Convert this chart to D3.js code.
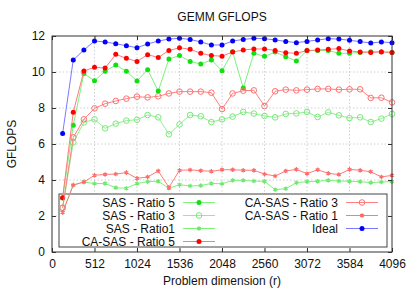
<!DOCTYPE html>
<html>
<head>
<meta charset="utf-8">
<script src="https://cdn.jsdelivr.net/npm/d3@7"></script>
<style>
  body { margin: 0; background: #fff; }
  svg { display: block; font-family: "Liberation Sans", Arial, sans-serif; }
</style>
</head>
<body>
<div id="chart"></div>
<script>
const dims = [128, 256, 384, 512, 640, 768, 896, 1024, 1152, 1280, 1408, 1536, 1664, 1792, 1920, 2048,
              2176, 2304, 2432, 2560, 2688, 2816, 2944, 3072, 3200, 3328, 3456, 3584, 3712, 3840, 3968, 4096];

const sasR5 = [3.0, 7.04, 9.91, 9.52, 10.04, 10.39, 10.04, 9.50, 10.13, 8.94, 10.72, 10.91, 10.59, 10.44, 10.67, 10.07,
               11.12, 9.11, 11.04, 10.87, 11.11, 10.85, 10.61, 11.19, 11.20, 11.20, 11.04, 11.04, 11.09, 11.13, 11.13, 11.09];
const sasR3 = [2.46, 6.09, 7.20, 7.37, 6.87, 7.13, 7.30, 7.35, 7.61, 7.48, 6.54, 7.09, 7.61, 7.54, 7.22, 7.37,
               7.52, 7.78, 7.69, 7.56, 7.48, 7.67, 7.70, 7.78, 7.50, 7.76, 7.59, 7.44, 7.48, 7.22, 7.41, 7.67];
const sasR1 = [2.2, 3.72, 3.89, 3.80, 3.81, 3.57, 3.54, 3.80, 3.91, 3.93, 3.54, 3.74, 3.67, 3.69, 3.81, 3.79,
               3.98, 3.98, 3.94, 3.93, 3.46, 3.52, 3.85, 3.91, 3.93, 3.98, 3.94, 3.93, 3.91, 3.85, 3.89, 3.91];
const caR5 = [3.02, 7.76, 10.06, 10.26, 10.22, 10.98, 10.76, 10.59, 10.96, 10.81, 11.19, 11.35, 11.26, 11.04, 10.91, 10.88,
              11.11, 11.22, 11.28, 11.28, 11.20, 11.07, 11.04, 11.19, 11.22, 11.26, 11.30, 11.17, 11.11, 11.09, 11.11, 11.09];
const caR3 = [2.45, 6.37, 7.37, 7.98, 8.24, 8.39, 8.52, 8.63, 8.59, 8.65, 8.81, 8.91, 8.91, 8.91, 8.85, 7.94,
              8.81, 8.96, 8.98, 8.11, 8.93, 9.02, 8.98, 9.02, 9.06, 9.06, 9.02, 9.04, 9.04, 8.56, 8.57, 8.31];
const caR1 = [2.2, 3.72, 3.89, 4.26, 4.31, 4.33, 4.41, 4.09, 4.17, 4.50, 3.59, 4.54, 4.56, 4.52, 4.48, 4.57,
              4.57, 4.54, 4.54, 4.33, 4.22, 4.50, 4.59, 4.35, 4.57, 4.37, 4.30, 4.59, 4.54, 4.46, 4.17, 4.26];
const ideal = [6.59, 10.67, 11.22, 11.72, 11.67, 11.57, 11.46, 11.35, 11.56, 11.72, 11.83, 11.87, 11.81, 11.67, 11.50, 11.50,
               11.72, 11.81, 11.87, 11.85, 11.78, 11.70, 11.63, 11.70, 11.78, 11.85, 11.83, 11.76, 11.69, 11.61, 11.67, 11.63];

const xTicks = [0, 512, 1024, 1536, 2048, 2560, 3072, 3584, 4096];
const yTicks = [0, 2, 4, 6, 8, 10, 12];

const seriesNames = ['SAS - Ratio 5', 'SAS - Ratio 3', 'SAS - Ratio1', 'CA-SAS - Ratio 5',
                     'CA-SAS - Ratio 3', 'CA-SAS - Ratio 1', 'Ideal'];
const seriesValues = [sasR5, sasR3, sasR1, caR5, caR3, caR1, ideal];

// look of each series: line colour, marker colour, marker kind
const styles = [
  { line: '#7cf27c', mark: '#10e010', kind: 'dot' },
  { line: '#8ef08e', mark: '#7ae87a', kind: 'ring' },
  { line: '#7cf27c', mark: '#6ee86e', kind: 'star' },
  { line: '#ff7a7a', mark: '#ff0000', kind: 'dot' },
  { line: '#ff8080', mark: '#ff7070', kind: 'ring' },
  { line: '#ff7a7a', mark: '#ff6a6a', kind: 'star' },
  { line: '#7a7aff', mark: '#0000ff', kind: 'dot' }
];

const width = 415, height = 291;
const plotL = 52, plotR = 392, plotT = 36, plotB = 252;

const svg = d3.select('#chart').append('svg')
  .attr('width', width)
  .attr('height', height);

const x = d3.scaleLinear().domain([0, 4096]).range([plotL, plotR]);
const y = d3.scaleLinear().domain([0, 12]).range([plotB, plotT]);

// grid
const grid = svg.append('g').attr('stroke', '#c4c4c4').attr('stroke-dasharray', '1.5,2').attr('stroke-width', 0.8);
grid.selectAll('.gx').data(xTicks.slice(1, -1)).enter().append('line')
  .attr('x1', d => x(d)).attr('x2', d => x(d)).attr('y1', plotT).attr('y2', plotB);
grid.selectAll('.gy').data(yTicks.slice(1, -1)).enter().append('line')
  .attr('y1', d => y(d)).attr('y2', d => y(d)).attr('x1', plotL).attr('x2', plotR);

// legend box (opaque), data drawn over it like the original
const legX = 59, legY = 194, legW = 328, legH = 53;
svg.append('rect')
  .attr('x', legX).attr('y', legY).attr('width', legW).attr('height', legH)
  .attr('fill', '#fff').attr('stroke', '#444').attr('stroke-width', 1);

function drawMarker(g, kind, color, cx, cy) {
  if (kind === 'dot') {
    g.append('circle').attr('cx', cx).attr('cy', cy).attr('r', 2.5).attr('fill', color);
  } else if (kind === 'ring') {
    g.append('circle').attr('cx', cx).attr('cy', cy).attr('r', 2.8)
      .attr('fill', 'none').attr('stroke', color).attr('stroke-width', 1);
  } else {
    g.append('path')
      .attr('transform', `translate(${cx},${cy})`)
      .attr('d', d3.symbol(d3.symbolAsterisk, 14)())
      .attr('fill', 'none').attr('stroke', color).attr('stroke-width', 1.2);
  }
}

const line = d3.line().x((d, i) => x(dims[i])).y(d => y(d));

seriesValues.forEach((vals, k) => {
  const st = styles[k];
  const g = svg.append('g');
  g.append('path').datum(vals)
    .attr('d', line)
    .attr('fill', 'none')
    .attr('stroke', st.line)
    .attr('stroke-width', 1);
  vals.forEach((v, i) => drawMarker(g, st.kind, st.mark, x(dims[i]), y(v)));
});

// legend entries
const rowY = [202.5, 215.5, 228.5, 241.5];
seriesNames.forEach((name, k) => {
  const col = k < 4 ? 0 : 1;
  const row = k < 4 ? k : k - 4;
  const textEnd = col === 0 ? 175 : 338;
  const lx = col === 0 ? 183 : 346;
  const cy = rowY[row];
  const g = svg.append('g');
  g.append('text')
    .attr('x', textEnd).attr('y', cy).attr('dy', '0.35em')
    .attr('text-anchor', 'end')
    .attr('font-size', 12)
    .attr('fill', '#111')
    .text(name);
  g.append('line')
    .attr('x1', lx).attr('x2', lx + 32).attr('y1', cy).attr('y2', cy)
    .attr('stroke', styles[k].line).attr('stroke-width', 1);
  drawMarker(g, styles[k].kind, styles[k].mark, lx + 16, cy);
});

// axes: ticks inward on all four sides
const xAxis = d3.axisBottom(x).tickValues(xTicks).tickFormat(d3.format('d')).tickSize(-4).tickPadding(7);
const yAxis = d3.axisLeft(y).tickValues(yTicks).tickFormat(d3.format('d')).tickSize(-4).tickPadding(7);

const gx = svg.append('g').attr('transform', `translate(0,${plotB})`).call(xAxis);
const gy = svg.append('g').attr('transform', `translate(${plotL},0)`).call(yAxis);
const gt = svg.append('g').attr('transform', `translate(0,${plotT})`)
  .call(d3.axisTop(x).tickValues(xTicks).tickSize(-4).tickFormat(''));
const gr = svg.append('g').attr('transform', `translate(${plotR},0)`)
  .call(d3.axisRight(y).tickValues(yTicks).tickSize(-4).tickFormat(''));

[gx, gy, gt, gr].forEach(g => {
  g.select('.domain').remove();
  g.selectAll('line').attr('stroke', '#333');
  g.selectAll('text').attr('font-size', 12).attr('fill', '#111')
    .style('font-family', '"Liberation Sans", Arial, sans-serif');
});

svg.append('rect')
  .attr('x', plotL).attr('y', plotT).attr('width', plotR - plotL).attr('height', plotB - plotT)
  .attr('fill', 'none').attr('stroke', '#333').attr('stroke-width', 1);

// title and axis labels
svg.append('text')
  .attr('x', (plotL + plotR) / 2).attr('y', 21)
  .attr('text-anchor', 'middle').attr('font-size', 12).attr('fill', '#111')
  .text('GEMM GFLOPS');

svg.append('text')
  .attr('x', (plotL + plotR) / 2).attr('y', 285)
  .attr('text-anchor', 'middle').attr('font-size', 12).attr('fill', '#111')
  .text('Problem dimension (r)');

svg.append('text')
  .attr('transform', `translate(16,${(plotT + plotB) / 2}) rotate(-90)`)
  .attr('text-anchor', 'middle').attr('font-size', 12).attr('fill', '#111')
  .text('GFLOPS');
</script>
</body>
</html>
